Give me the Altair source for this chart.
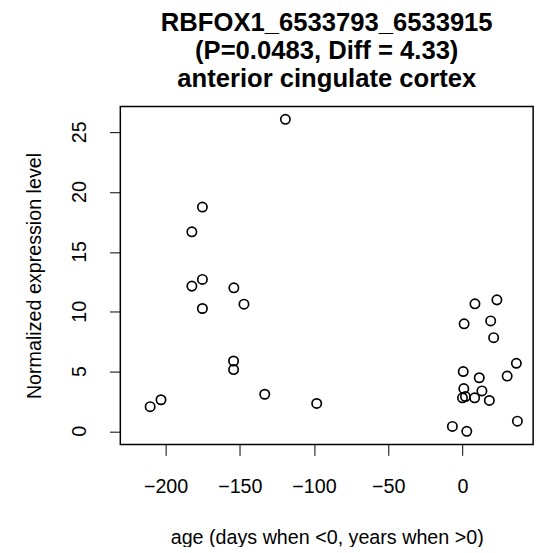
import altair as alt
import pandas as pd

age = [-175.2, -182.3, -182.3, -175.2, -154.0, -175.2, -147.2, -154.2, -154.2,
       -210.4, -203.1, -133.2, -98.2, -119.3,
       8.4, 23.2, 1.1, 19.0, 21.0, 36.3, 0.5, 11.3, 30.1, 0.9, 13.1, 0.0, 2.0,
       8.2, 18.1, -6.8, 2.9, 37.0]
expr = [18.75, 16.68, 12.14, 12.70, 12.0, 10.27, 10.63, 5.88, 5.16,
        2.06, 2.64, 3.10, 2.33, 26.08,
        10.66, 10.99, 8.99, 9.23, 7.83, 5.69, 5.0, 4.48, 4.62, 3.57, 3.38, 2.80, 2.91,
        2.80, 2.58, 0.41, 0.0, 0.85]

x_ticks = [-200, -150, -100, -50, 0]
y_ticks = [0, 5, 10, 15, 20, 25]
title_lines = ["RBFOX1_6533793_6533915", "(P=0.0483, Diff = 4.33)", "anterior cingulate cortex"]

df = pd.DataFrame({"age": age, "expr": expr})
FONT = "Liberation Sans"
W, H = 419, 343

xscale = alt.Scale(domain=[-230.5, 47.6], nice=False, zero=False)
yscale = alt.Scale(domain=[-1.10, 27.15], nice=False, zero=False)

points = alt.Chart(df).mark_point(
    shape="circle", filled=False, color="black", size=90, strokeWidth=1.7, opacity=1
).encode(
    x=alt.X("age:Q", scale=xscale,
            axis=alt.Axis(values=x_ticks, title="age (days when <0, years when >0)",
                          grid=False, domain=False, tickColor="black", tickSize=11,
                          tickWidth=1, labelFont=FONT, labelFontSize=20, labelColor="black",
                          labelPadding=22, titleFont=FONT, titleFontSize=20,
                          titleFontWeight="normal", titleColor="black", titlePadding=31,
                          format="d", labelExpr="replace(datum.label, '-', '\u2212')")),
    y=alt.Y("expr:Q", scale=yscale,
            axis=alt.Axis(values=y_ticks, title="Normalized expression level",
                          grid=False, domain=False, tickColor="black", tickSize=11,
                          tickWidth=1, labels=False, titleFont=FONT, titleFontSize=20,
                          titleFontWeight="normal", titleColor="black", titlePadding=66)),
)

ylabels = alt.Chart(pd.DataFrame({"v": y_ticks})).mark_text(
    font=FONT, fontSize=20, color="black", align="center", baseline="middle"
).encode(
    y=alt.Y("v:Q", scale=yscale),
    x=alt.value(-41),
    angle=alt.value(270),
    text=alt.Text("v:Q", format="d"),
)

box = alt.Chart(pd.DataFrame({"a": [0]})).mark_rect(
    fillOpacity=0, stroke="black", strokeWidth=1.5
).encode(
    x=alt.value(0), x2=alt.value(W), y=alt.value(0), y2=alt.value(H)
)

chart = alt.layer(box, points, ylabels).properties(
    width=W, height=H,
    title=alt.TitleParams(text=title_lines, font=FONT, fontSize=26, fontWeight="bold",
                          color="black", anchor="middle", lineHeight=28.7, offset=14),
    autosize=alt.AutoSizeParams(type="none"),
    padding={"left": 114, "top": 96, "right": 9, "bottom": 100},
).configure(background="white").configure_view(stroke=None)

chart.save("out.html", embed_options={"renderer": "svg", "actions": False})
